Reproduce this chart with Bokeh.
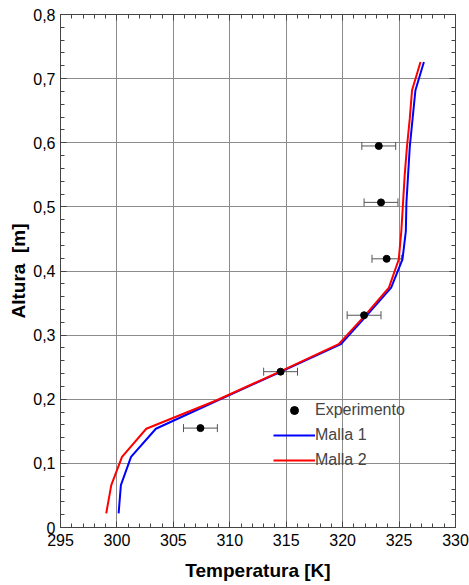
from bokeh.plotting import figure
from bokeh.models import (ColumnDataSource, Whisker, TeeHead, LinearAxis, Legend, LegendItem,
                          SingleIntervalTicker, CustomJSTickFormatter)
from bokeh.embed import file_html
from bokeh.resources import INLINE

# ---- data ----
exp_T = [307.4, 314.5, 321.9, 323.9, 323.4, 323.2]
exp_h = [0.155, 0.243, 0.331, 0.419, 0.507, 0.595]
exp_err = [1.5, 1.5, 1.5, 1.3, 1.5, 1.5]

heights = [0.022, 0.066, 0.110, 0.154, 0.198, 0.242, 0.286, 0.330, 0.374,
           0.418, 0.462, 0.506, 0.550, 0.594, 0.638, 0.682, 0.726]
malla1_T = [300.15, 300.35, 301.25, 303.45, 308.9, 314.4, 319.85, 322.1, 324.3,
            325.3, 325.6, 325.65, 325.8, 325.95, 326.2, 326.45, 327.2]
malla2_T = [299.05, 299.5, 300.45, 302.6, 308.8, 314.3, 319.65, 321.95, 324.1,
            324.97, 325.2, 325.35, 325.5, 325.7, 325.95, 326.15, 326.9]

FONT = "Liberation Sans"
GRID = "#8c8c8c"
AX = "#444444"

p = figure(width=469, height=585, x_range=(295, 330), y_range=(0, 0.8),
           output_backend="svg", toolbar_location=None,
           min_border_left=60, min_border_right=14, min_border_top=14, min_border_bottom=58,
           x_axis_label="Temperatura [K]", y_axis_label="Altura \u00a0[m]")
p.background_fill_color = "white"
p.border_fill_color = "white"
p.outline_line_color = AX
p.outline_line_width = 1

xt = SingleIntervalTicker(interval=5, num_minor_ticks=5)
yt = SingleIntervalTicker(interval=0.1, num_minor_ticks=5)
p.xaxis.ticker = xt
p.yaxis.ticker = yt
p.xgrid.ticker = xt
p.ygrid.ticker = yt
p.xgrid.grid_line_color = GRID
p.ygrid.grid_line_color = GRID

fmt_y = CustomJSTickFormatter(code="if (Math.abs(tick) < 1e-9) return '0'; return tick.toFixed(1).replace('.', ',');")
fmt_x = CustomJSTickFormatter(code="return tick.toFixed(0);")
p.yaxis.formatter = fmt_y
p.xaxis.formatter = fmt_x

for ax in (p.xaxis[0], p.yaxis[0]):
    ax.axis_line_color = AX
    ax.major_tick_line_color = AX
    ax.minor_tick_line_color = AX
    ax.major_tick_in = 6
    ax.major_tick_out = 0
    ax.minor_tick_in = 4
    ax.minor_tick_out = 0
    ax.major_label_text_font = FONT
    ax.major_label_text_font_size = "16px"
    ax.major_label_text_color = "black"
    ax.axis_label_text_font = FONT
    ax.axis_label_text_font_size = "19px"
    ax.axis_label_text_font_style = "bold"
    ax.axis_label_text_color = "black"
p.xaxis.major_label_standoff = 6
p.xaxis.axis_label_standoff = 11
p.yaxis.major_label_standoff = 5
p.yaxis.axis_label_standoff = 1

blank = CustomJSTickFormatter(code="return '';")
for loc, tk in (("right", yt), ("above", xt)):
    a = LinearAxis(ticker=tk, formatter=blank, axis_line_color=AX,
                   major_tick_line_color=AX, minor_tick_line_color=AX,
                   major_tick_in=6, major_tick_out=0, minor_tick_in=4, minor_tick_out=0,
                   major_label_standoff=0, major_label_text_font_size="1px")
    p.add_layout(a, loc)

# error bars
src = ColumnDataSource(dict(h=exp_h, lo=[t - e for t, e in zip(exp_T, exp_err)],
                            hi=[t + e for t, e in zip(exp_T, exp_err)]))
w = Whisker(base="h", lower="lo", upper="hi", dimension="width", source=src,
            line_color="#555555", line_width=1,
            upper_head=TeeHead(size=8, line_color="#555555", line_width=1),
            lower_head=TeeHead(size=8, line_color="#555555", line_width=1))
p.add_layout(w)

r1 = p.line(malla1_T, heights, line_color="#0000ff", line_width=2)
r2 = p.line(malla2_T, heights, line_color="#ff0000", line_width=2)
r0 = p.scatter(exp_T, exp_h, marker="circle", size=7, fill_color="black", line_color="black")

legend = Legend(items=[LegendItem(label="Experimento", renderers=[r0]),
                       LegendItem(label="Malla 1", renderers=[r1]),
                       LegendItem(label="Malla 2", renderers=[r2])],
                location=(213, 57), orientation="vertical",
                background_fill_alpha=0, border_line_color=None,
                padding=0, margin=0, spacing=5, glyph_width=42, glyph_height=20,
                label_height=20, label_standoff=0,
                label_text_font=FONT, label_text_font_size="16px")
p.add_layout(legend, "center")

open("out.html", "w").write(file_html(p, INLINE))
